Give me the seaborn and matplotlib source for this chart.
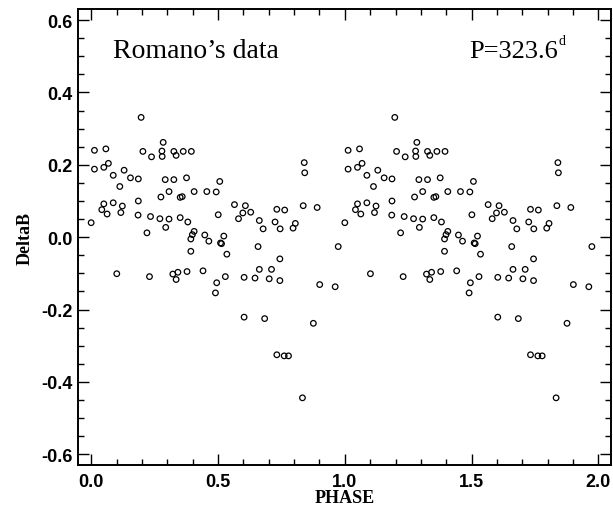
import matplotlib
matplotlib.use("Agg")
import matplotlib.pyplot as plt
from matplotlib.ticker import MultipleLocator
import seaborn as sns
import pandas as pd
import numpy as np

# phase (0..1) and DeltaB; the chart repeats it for phase 1..2
phase = [0.000, 0.013, 0.013, 0.058, 0.050, 0.068, 0.050, 0.042, 0.063, 0.197,
         0.087, 0.113, 0.130, 0.087, 0.123, 0.117, 0.155, 0.186, 0.186, 0.185,
         0.204, 0.238, 0.220, 0.234, 0.279, 0.280, 0.284, 0.271, 0.275, 0.307,
         0.292, 0.326, 0.326, 0.335, 0.363, 0.395, 0.376, 0.351, 0.359, 0.406,
         0.456, 0.307, 0.294, 0.351, 0.381, 0.406, 0.399, 0.393, 0.448, 0.464,
         0.393, 0.101, 0.230, 0.322, 0.342, 0.335, 0.378, 0.441, 0.507, 0.493,
         0.501, 0.565, 0.608, 0.598, 0.629, 0.581, 0.840, 0.842, 0.732, 0.763,
         0.836, 0.891, 0.663, 0.678, 0.725, 0.745, 0.805, 0.796, 0.523, 0.510,
         0.514, 0.658, 0.974, 0.535, 0.744, 0.663, 0.711, 0.529, 0.603, 0.646,
         0.702, 0.744, 0.495, 0.490, 0.901, 0.962, 0.603, 0.684, 0.876, 0.732,
         0.761, 0.778, 0.833]
delta_b = [0.040, 0.240, 0.188, 0.244, 0.193, 0.204, 0.092, 0.076, 0.064, 0.331,
           0.171, 0.140, 0.185, 0.095, 0.086, 0.068, 0.164, 0.161, 0.100, 0.061,
           0.237, 0.222, 0.012, 0.057, 0.238, 0.223, 0.262, 0.051, 0.111, 0.126,
           0.159, 0.159, 0.237, 0.226, 0.237, 0.237, 0.164, 0.110, 0.112, 0.126,
           0.126, 0.050, 0.027, 0.054, 0.042, 0.016, 0.007, -0.005, 0.006, -0.011,
           -0.039, -0.101, -0.109, -0.102, -0.097, -0.117, -0.095, -0.093, 0.154, 0.125,
           0.062, 0.090, 0.087, 0.067, 0.069, 0.051, 0.206, 0.178, 0.077, 0.075,
           0.087, 0.082, 0.046, 0.023, 0.042, 0.023, 0.038, 0.025, 0.003, -0.016,
           -0.018, -0.026, -0.026, -0.047, -0.060, -0.089, -0.089, -0.109, -0.111, -0.113,
           -0.115, -0.120, -0.126, -0.154, -0.131, -0.137, -0.221, -0.225, -0.238, -0.325,
           -0.328, -0.328, -0.444]
cycles = [0, 1]
x_ticks = [0.0, 0.5, 1.0, 1.5, 2.0]
y_ticks = [-0.6, -0.4, -0.2, 0.0, 0.2, 0.4, 0.6]

df = pd.concat([pd.DataFrame({"PHASE": np.array(phase) + c, "DeltaB": delta_b}) for c in cycles],
               ignore_index=True)

sns.set_style("ticks")
plt.rcParams["axes.unicode_minus"] = False
plt.rcParams["text.color"] = "black"
plt.rcParams["axes.labelcolor"] = "black"
plt.rcParams["xtick.color"] = "black"
plt.rcParams["ytick.color"] = "black"

fig = plt.figure(figsize=(6.13, 5.10), dpi=100)
ax = fig.add_axes([0.128, 0.086, 0.869, 0.894])

sns.scatterplot(data=df, x="PHASE", y="DeltaB", ax=ax, marker="o", s=16,
                facecolor="none", edgecolor="black", linewidth=0.9, legend=False)

ax.set_xlim(-0.05, 2.05)
ax.set_ylim(-0.63, 0.63)
ax.set_xticks(x_ticks)
ax.set_yticks(y_ticks)
ax.xaxis.set_minor_locator(MultipleLocator(0.1))
ax.yaxis.set_minor_locator(MultipleLocator(0.05))
ax.tick_params(which="both", direction="in", top=True, right=True, width=1.0,
               color="black", labelcolor="black")
ax.tick_params(which="major", length=8)
ax.tick_params(which="minor", length=4)
for sp in ax.spines.values():
    sp.set_linewidth(1.4)
    sp.set_color("black")

for lab in ax.get_xticklabels() + ax.get_yticklabels():
    lab.set_family("Liberation Sans")
    lab.set_fontweight("bold")
    lab.set_fontsize(13)
ax.tick_params(axis="x", pad=6)
ax.tick_params(axis="y", pad=4)

ax.set_xlabel("PHASE", family="Liberation Serif", fontweight="bold", fontsize=13,
              labelpad=-1, color="black")
ax.set_ylabel("DeltaB", family="Liberation Serif", fontweight="bold", fontsize=13,
              labelpad=6, color="black")

ax.text(0.085, 0.499, "Romano\u2019s data", family="Liberation Serif", fontsize=20,
        va="baseline", ha="left", color="black")
ax.text(1.49, 0.499, "P=323.6", family="Liberation Serif", fontsize=19,
        va="baseline", ha="left", color="black")
ax.text(1.842, 0.535, "d", family="Liberation Serif", fontsize=10,
        va="baseline", ha="left", color="black")

fig.savefig("out.png", dpi=100)
